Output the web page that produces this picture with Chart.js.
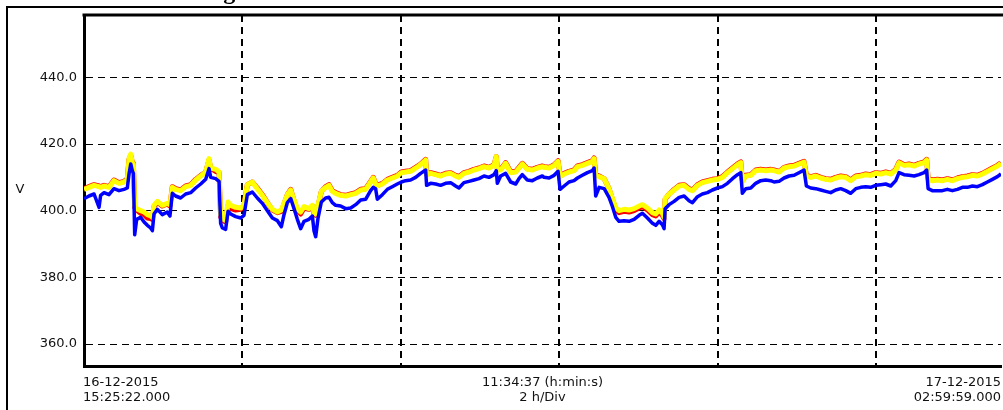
<!DOCTYPE html>
<html>
<head>
<meta charset="utf-8">
<script src="https://cdn.jsdelivr.net/npm/chart.js@4.4.1/dist/chart.umd.min.js"></script>
<style>
  html, body { margin: 0; padding: 0; background: #fff; }
  canvas { display: block; }
</style>
</head>
<body>
<canvas id="chart" width="1003" height="410"></canvas>
<script>
// minutes since 16-12-2015 15:25:22
const minutes = [
  0, 3.8, 7.6, 11.4, 12.6, 15.2, 18.9, 22.7, 26.5, 30.3, 32.8, 34.1, 35.4, 36.6, 37.4, 38.4, 39.9, 42.9, 45.5, 48.0,
  50.5, 51.8, 53.0, 55.6, 59.3, 63.1, 65.1, 66.9, 69.4, 73.2, 77.0, 80.8, 84.6, 88.4, 92.2, 94.7, 96.0, 99.7, 102.3, 103.5,
  104.8, 107.3, 109.1, 111.1, 114.9, 118.7, 121.2, 123.7, 127.5, 131.3, 135.1, 138.9, 142.7, 146.5, 149.5, 151.5, 154.0, 156.6, 159.1, 161.6,
  164.1, 166.7, 170.4, 173.0,
  174.2, 175.5, 177.2, 179.8, 183.0, 185.6, 188.1, 190.6, 194.4, 198.2, 202.0, 205.8, 209.6, 213.3, 217.1, 219.1, 220.9, 222.2, 226.0, 229.8,
  233.5, 237.3, 240.4, 243.6, 247.4, 251.2, 255.0, 258.8, 259.5, 262.6, 266.4, 270.1, 273.9, 277.7, 281.5, 284.0, 287.8, 291.6, 295.4, 299.2,
  303.0, 306.8, 310.6, 312.3, 313.1, 315.6, 319.4, 323.2, 327.0, 329.5, 332.0, 335.8, 339.6, 343.4, 347.2,
  348.5, 352.3, 356.1, 359.1, 360.6, 363.7, 367.4, 371.2, 373.8, 377.5, 381.3, 385.1, 386.4, 387.6, 390.2, 394.0, 397.7, 400.3, 402.8, 405.3,
  409.1, 412.9, 416.7, 420.5, 423.0, 426.8, 430.6, 433.1, 435.6, 438.1, 439.4, 440.2, 443.2, 447.0, 450.8, 454.6, 458.3, 460.9, 464.7, 468.4,
  472.2, 476.0, 479.8, 483.6, 487.4, 491.2, 495.0, 497.5, 498.7, 501.3, 505.1, 508.8, 512.6, 516.4, 520.2,
  522.7, 526.5, 530.3, 534.1, 537.9, 541.6, 545.4, 547.2, 550.5, 554.3, 558.1, 561.8, 565.6, 569.4, 573.2, 577.0, 580.8, 584.6, 588.4, 592.1,
  595.9, 599.7, 603.5, 607.3, 611.1, 614.9, 617.4, 621.2, 625.0, 628.8, 632.5, 636.3, 638.3, 639.4, 642.6, 646.4, 650.2, 654.0, 657.8, 661.6,
  665.4, 669.2, 673.0, 676.7, 680.5, 684.3, 688.1, 691.9, 694.6
];

const yellowV = [
  406.4, 407.0, 407.6, 407.2, 407.0, 407.4, 407.0, 409.0, 408.2, 408.6, 409.4, 415.6, 417.0, 414.4, 414.0, 401.4, 400.6, 400.0, 399.6, 398.8,
  398.4, 398.0, 401.6, 402.8, 401.6, 402.2, 401.8, 407.0, 406.4, 406.0, 407.2, 407.6, 409.2, 410.4, 411.6, 415.6, 412.8, 412.4, 411.6, 398.8,
  397.6, 397.0, 402.6, 401.6, 401.0, 400.8, 401.6, 407.8, 408.6, 406.6, 404.6, 402.4, 400.4, 399.6, 400.2, 402.2, 404.8, 406.2, 403.2, 400.6,
  399.6, 401.2, 400.6, 401.6,
  399.4, 399.0, 401.6, 405.8, 407.0, 407.6, 405.8, 405.2, 404.6, 404.4, 404.8, 405.2, 406.2, 406.4, 408.6, 409.8, 408.0, 407.4, 408.0, 409.2,
  409.8, 410.4, 411.4, 411.6, 411.8, 412.8, 413.8, 415.2, 410.8, 411.2, 410.8, 410.4, 411.0, 411.2, 410.4, 410.0, 411.2, 411.6, 412.2, 412.6,
  413.2, 412.8, 413.6, 416.2, 412.2, 412.2, 414.2, 411.4, 411.6, 412.8, 414.0, 412.4, 412.2, 412.8, 413.2,
  413.0, 412.8, 413.6, 414.8, 410.2, 411.0, 411.6, 412.0, 413.2, 413.6, 414.2, 414.8, 415.6, 410.6, 410.2, 409.6, 406.6, 403.6, 400.8, 400.0,
  400.4, 400.2, 400.6, 401.4, 401.8, 400.8, 399.4, 399.0, 400.2, 399.2, 398.0, 403.6, 405.0, 406.2, 407.4, 407.6, 406.4, 406.0, 407.6, 408.4,
  408.8, 409.2, 409.4, 410.0, 411.4, 412.6, 413.8, 414.4, 408.8, 410.4, 410.6, 412.0, 412.2, 412.0, 412.2,
  412.0, 411.6, 412.8, 413.2, 413.4, 414.0, 414.6, 410.4, 410.0, 410.4, 409.8, 409.4, 409.2, 409.8, 410.2, 410.0, 409.0, 410.2, 410.4, 410.8,
  410.6, 411.2, 411.0, 411.4, 411.0, 412.2, 414.4, 413.6, 413.8, 413.4, 414.0, 414.4, 415.2, 409.4, 409.0, 409.2, 409.0, 409.4, 409.0, 409.6,
  410.0, 410.2, 410.6, 410.4, 411.0, 411.8, 412.6, 413.4, 414.2
];

const blueV = [
  403.6, 404.4, 405.0, 401.0, 404.6, 405.4, 404.8, 406.6, 406.0, 406.4, 406.8, 411.0, 414.0, 412.0, 411.2, 392.8, 397.4, 398.0, 396.6, 395.6,
  394.8, 394.0, 399.0, 400.4, 398.8, 399.6, 398.4, 405.2, 404.4, 403.8, 405.0, 405.4, 406.8, 408.0, 409.4, 412.6, 410.0, 409.6, 408.8, 396.2,
  394.8, 394.4, 399.8, 399.0, 398.2, 397.8, 398.6, 404.8, 405.6, 403.8, 402.2, 400.0, 397.8, 397.0, 395.2, 398.8, 402.4, 403.6, 400.6, 397.4,
  394.6, 396.8, 397.4, 398.4,
  394.0, 392.2, 397.6, 402.6, 403.8, 404.0, 402.4, 401.6, 401.4, 400.6, 400.8, 401.8, 403.2, 403.4, 406.0, 407.0, 406.6, 403.4, 404.8, 406.4,
  407.2, 408.0, 408.6, 409.0, 409.2, 410.0, 411.2, 412.2, 407.6, 408.2, 408.0, 407.6, 408.2, 408.4, 407.4, 406.8, 408.4, 408.8, 409.2, 409.6,
  410.4, 410.0, 410.8, 412.0, 408.2, 410.4, 411.2, 408.6, 408.0, 409.6, 410.8, 409.2, 409.0, 409.8, 410.4,
  410.0, 409.8, 410.6, 411.8, 406.4, 407.4, 408.6, 409.0, 409.8, 410.6, 411.4, 412.0, 412.8, 404.4, 407.0, 406.6, 404.0, 401.2, 398.0, 396.8,
  397.0, 396.8, 397.4, 398.6, 399.2, 397.8, 396.2, 395.6, 396.8, 395.8, 394.6, 400.6, 401.8, 402.8, 404.0, 404.4, 403.0, 402.4, 404.2, 405.0,
  405.4, 406.2, 406.8, 407.2, 408.2, 409.6, 410.8, 411.4, 405.2, 406.6, 406.8, 408.2, 409.0, 409.2, 409.0,
  408.6, 408.8, 409.8, 410.4, 410.6, 411.4, 412.2, 407.4, 406.8, 406.6, 406.2, 405.8, 405.4, 406.2, 406.6, 406.0, 405.2, 406.6, 407.0, 407.2,
  407.0, 407.6, 407.8, 408.0, 407.4, 409.0, 411.4, 410.8, 410.6, 410.4, 410.8, 411.4, 412.2, 406.6, 406.0, 406.0, 406.0, 406.4, 406.0, 406.4,
  407.0, 407.0, 407.4, 407.2, 407.8, 408.6, 409.4, 410.2, 411.0
];

const redV = [
  406.6, 407.2, 407.8, 407.4, 407.2, 407.6, 407.2, 409.2, 408.4, 408.8, 409.6, 415.4, 416.6, 414.6, 414.2, 401.0, 400.2, 399.2, 398.8, 397.8,
  397.6, 397.4, 401.2, 402.6, 401.4, 402.0, 401.4, 407.2, 406.6, 406.2, 407.4, 407.8, 409.4, 410.6, 411.6, 415.2, 412.6, 411.8, 411.4, 398.2,
  397.0, 396.6, 401.6, 400.6, 400.2, 400.4, 401.4, 407.8, 408.6, 406.8, 404.8, 402.4, 400.2, 399.4, 399.8, 402.0, 404.8, 406.4, 403.0, 400.2,
  399.0, 400.8, 400.4, 401.4,
  399.0, 398.6, 401.2, 405.8, 407.2, 407.8, 406.0, 405.4, 404.8, 404.6, 405.0, 405.4, 406.4, 406.6, 408.8, 410.0, 408.2, 407.6, 408.2, 409.4,
  410.0, 410.6, 411.6, 411.8, 412.0, 413.0, 414.0, 415.4, 411.0, 411.4, 411.0, 410.6, 411.2, 411.4, 410.6, 410.2, 411.4, 411.8, 412.4, 412.8,
  413.4, 413.0, 413.8, 416.2, 412.4, 412.4, 414.4, 411.6, 411.8, 413.0, 414.2, 412.6, 412.4, 413.0, 413.4,
  413.2, 413.0, 413.8, 415.0, 410.4, 411.2, 411.8, 412.2, 413.4, 413.8, 414.4, 415.0, 415.8, 410.8, 410.4, 409.6, 406.6, 403.4, 400.4, 399.4,
  399.8, 399.6, 400.0, 400.8, 401.2, 400.2, 398.8, 398.4, 399.6, 398.6, 397.6, 403.4, 405.0, 406.4, 407.6, 407.8, 406.6, 406.2, 407.8, 408.6,
  409.0, 409.4, 409.6, 410.2, 411.6, 412.8, 414.0, 414.6, 409.0, 410.6, 410.8, 412.2, 412.4, 412.2, 412.4,
  412.2, 411.8, 413.0, 413.4, 413.6, 414.2, 414.8, 410.6, 410.2, 410.6, 410.0, 409.6, 409.4, 410.0, 410.4, 410.2, 409.2, 410.4, 410.6, 411.0,
  410.8, 411.4, 411.2, 411.6, 411.2, 412.4, 414.6, 413.8, 414.0, 413.6, 414.2, 414.6, 415.4, 409.6, 409.2, 409.4, 409.2, 409.6, 409.2, 409.8,
  410.2, 410.4, 410.8, 410.6, 411.2, 412.0, 412.8, 413.6, 414.4
];

const yTicks = [360, 380, 400, 420, 440];
const xTicks = [120, 240, 360, 480, 600]; // 2 h/Div
const totalMinutes = 694.62;               // 11:34:37
const startLabel = ['16-12-2015', '15:25:22.000'];
const midLabel = ['11:34:37 (h:min:s)', '2 h/Div'];
const endLabel = ['17-12-2015', '02:59:59.000'];
const unitLabel = 'V';
const titleText = 'Voltage';

const pts = arr => minutes.map((m, i) => ({ x: m, y: arr[i] }));

const frame = {
  id: 'frame',
  afterDraw(chart) {
    const { ctx, chartArea: a } = chart;
    ctx.save();
    ctx.strokeStyle = '#000';
    ctx.lineWidth = 2;
    ctx.beginPath();
    ctx.moveTo(7, 410);
    ctx.lineTo(7, 7);
    ctx.lineTo(1003, 7);
    ctx.stroke();

    ctx.lineWidth = 3;
    ctx.beginPath();
    ctx.moveTo(a.left - 1.5, a.top);
    ctx.lineTo(1003, a.top);
    ctx.stroke();

    // title sits above the visible area, only its descender shows
    ctx.fillStyle = '#000';
    ctx.font = 'bold 24px "Liberation Serif"';
    ctx.textAlign = 'right';
    ctx.textBaseline = 'alphabetic';
    ctx.fillText(titleText, 246, -1);

    ctx.font = '13px "DejaVu Sans"';
    ctx.fillStyle = '#111';
    ctx.textAlign = 'left';
    ctx.fillText(startLabel[0], a.left - 1, 386);
    ctx.fillText(startLabel[1], a.left - 1, 401);
    ctx.textAlign = 'center';
    const mid = (a.left + a.right) / 2;
    ctx.fillText(midLabel[0], mid, 386);
    ctx.fillText(midLabel[1], mid, 401);
    ctx.textAlign = 'right';
    ctx.fillText(endLabel[0], a.right, 386);
    ctx.fillText(endLabel[1], a.right, 401);
    ctx.textAlign = 'center';
    ctx.fillText(unitLabel, 20, 193);
    ctx.restore();
  }
};

new Chart(document.getElementById('chart'), {
  type: 'line',
  data: {
    datasets: [
      { label: 'L3', data: pts(blueV), borderColor: '#0000ff', borderWidth: 3.5, order: 0 },
      { label: 'L2', data: pts(yellowV), borderColor: '#ffff00', borderWidth: 5, order: 1 },
      { label: 'L1', data: pts(redV), borderColor: '#ff0000', borderWidth: 5, order: 2 }
    ]
  },
  options: {
    responsive: false,
    animation: false,
    elements: { point: { radius: 0 }, line: { tension: 0, borderJoinStyle: 'round' } },
    layout: { padding: { top: 15, right: 2, left: 0, bottom: 0 } },
    plugins: { legend: { display: false }, tooltip: { enabled: false } },
    scales: {
      x: {
        type: 'linear',
        min: 0,
        max: totalMinutes,
        afterBuildTicks: s => { s.ticks = xTicks.map(v => ({ value: v })); },
        afterFit: s => { s.height = 43.5; },
        grid: { color: '#000', lineWidth: 2, drawTicks: false },
        border: { color: '#000', width: 3, dash: [7, 5] },
        ticks: { display: false }
      },
      y: {
        min: 353.25,
        max: 458.7,
        afterBuildTicks: s => { s.ticks = yTicks.map(v => ({ value: v })); },
        afterFit: s => { s.width = 84; },
        grid: { color: '#000', lineWidth: 1, drawTicks: false },
        border: { color: '#000', width: 3, dash: [7, 5] },
        ticks: {
          color: '#111',
          padding: 7,
          font: { family: 'DejaVu Sans', size: 13 },
          callback: v => Number(v).toFixed(1)
        }
      }
    }
  },
  plugins: [frame]
});
</script>
</body>
</html>
